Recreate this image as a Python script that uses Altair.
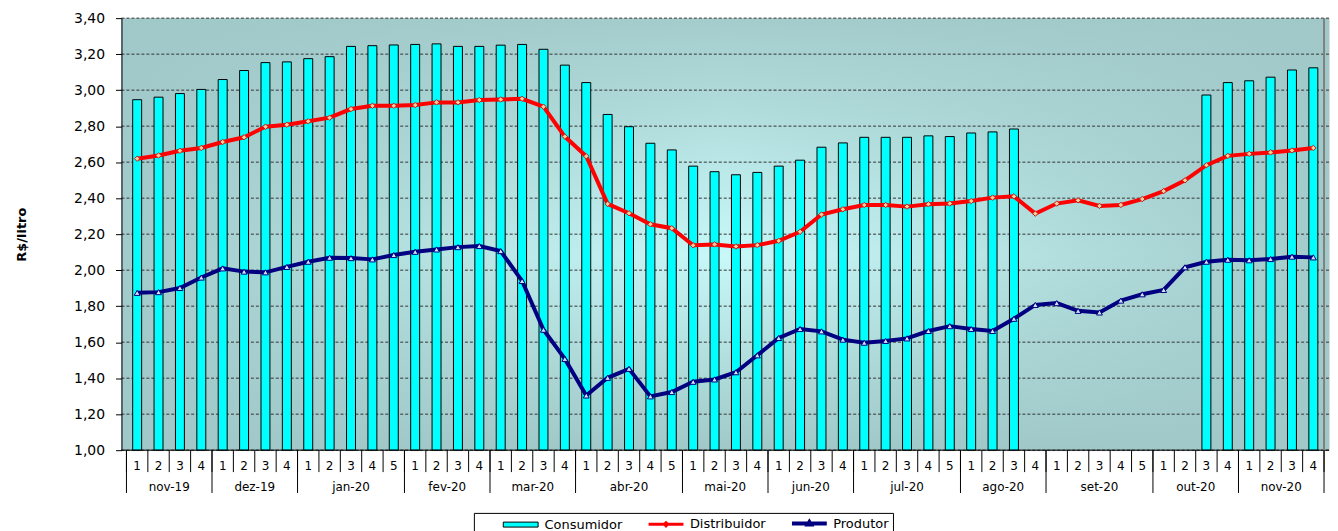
import altair as alt
import pandas as pd

# ---------------- data ----------------
months = ['nov-19', 'dez-19', 'jan-20', 'fev-20', 'mar-20', 'abr-20', 'mai-20',
          'jun-20', 'jul-20', 'ago-20', 'set-20', 'out-20', 'nov-20']
weeks_per_month = [4, 4, 5, 4, 4, 5, 4, 4, 5, 4, 5, 4, 4]

consumidor = [2.947, 2.961, 2.981, 3.004, 3.059, 3.109, 3.153, 3.157, 3.175, 3.186,
              3.243, 3.247, 3.251, 3.254, 3.257, 3.243, 3.243, 3.250, 3.254, 3.227,
              3.139, 3.042, 2.865, 2.797, 2.705, 2.668, 2.578, 2.547, 2.530, 2.543,
              2.578, 2.611, 2.683, 2.707, 2.738, 2.738, 2.738, 2.746, 2.742, 2.762,
              2.768, 2.784, None, None, None, None, None, None, None, None,
              2.973, 3.042, 3.052, 3.072, 3.112, 3.124]

distribuidor = [2.619, 2.637, 2.663, 2.679, 2.712, 2.738, 2.797, 2.808, 2.827, 2.847,
                2.895, 2.913, 2.913, 2.917, 2.932, 2.932, 2.945, 2.948, 2.952, 2.908,
                2.742, 2.633, 2.368, 2.316, 2.255, 2.233, 2.138, 2.143, 2.132, 2.139,
                2.163, 2.213, 2.309, 2.338, 2.362, 2.362, 2.353, 2.366, 2.370, 2.384,
                2.403, 2.410, 2.314, 2.370, 2.388, 2.357, 2.362, 2.395, 2.439, 2.499,
                2.583, 2.635, 2.646, 2.654, 2.665, 2.679]

produtor = [1.874, 1.878, 1.901, 1.959, 2.010, 1.992, 1.988, 2.018, 2.047, 2.069,
            2.067, 2.060, 2.084, 2.102, 2.115, 2.128, 2.134, 2.106, 1.940, 1.669,
            1.507, 1.304, 1.402, 1.452, 1.299, 1.323, 1.380, 1.393, 1.433, 1.527,
            1.623, 1.673, 1.660, 1.614, 1.597, 1.607, 1.621, 1.662, 1.689, 1.673,
            1.662, 1.730, 1.807, 1.817, 1.774, 1.765, 1.831, 1.866, 1.890, 2.016,
            2.047, 2.058, 2.055, 2.062, 2.075, 2.071]

y_ticks = [1.00, 1.20, 1.40, 1.60, 1.80, 2.00, 2.20, 2.40, 2.60, 2.80, 3.00, 3.20, 3.40]
series_names = ['Consumidor', 'Distribuidor', 'Produtor']
series_colors = ['#00FFFF', '#FF0000', '#000080']

# ---------------- derived tables ----------------
week_labels, month_start = [], []
s = 0
for n in weeks_per_month:
    month_start.append(s)
    week_labels += [str(k) for k in range(1, n + 1)]
    s += n
N = s
month_bounds = month_start + [N]
month_center = [st + n / 2 for st, n in zip(month_start, weeks_per_month)]

df = pd.DataFrame({
    'slot': [i + 0.5 for i in range(N)],
    'semana': week_labels,
    'Consumidor': consumidor,
    'Distribuidor': distribuidor,
    'Produtor': produtor,
    'serie': 'Consumidor',
    'base': 1.0,
})
df_edges = pd.DataFrame({'e': list(range(N + 1))})
df_months = pd.DataFrame({'mes': months, 'centro': month_center})
df_bounds = pd.DataFrame({'b': month_bounds})
df_grid = pd.DataFrame({'v': y_ticks})
one = pd.DataFrame({'k': [0]})

W, H = 1213, 434
FONT = 'DejaVu Sans'
xscale = alt.Scale(domain=[0, N], nice=False, zero=False)
yscale = alt.Scale(domain=[1.0, 3.4], nice=False, zero=False)

y_axis = alt.Axis(
    values=y_ticks,
    labelExpr="replace(format(datum.value, '.2f'), '.', ',')",
    grid=False, domainColor='black', tickColor='black', tickSize=6,
    labelFont=FONT, labelFontSize=14, labelColor='black', labelPadding=11,
    title='R$/litro', titleFont=FONT, titleFontWeight='bold', titleFontSize=13,
    titleColor='black', titleX=-100, titleY=H / 2, titleBaseline='middle',
    titleAlign='center', zindex=1)


def X(field):
    return alt.X(field, scale=xscale, axis=None)


def Y(field):
    return alt.Y(field, scale=yscale, axis=y_axis, title='R$/litro')


# ---------------- background ----------------
bg_v = alt.Chart(one).mark_rect(
    color=alt.LinearGradient(
        gradient='linear', x1=0, x2=0, y1=0, y2=1,
        stops=[alt.GradientStop(offset=0, color='#A4CCCC'),
               alt.GradientStop(offset=0.55, color='#C8F8F8'),
               alt.GradientStop(offset=1, color='#A0C8C8')])
).encode(x=alt.value(0), x2=alt.value(W), y=alt.value(0), y2=alt.value(H))

bg_h = alt.Chart(one).mark_rect(
    color=alt.LinearGradient(
        gradient='linear', x1=0, x2=1, y1=0, y2=0,
        stops=[alt.GradientStop(offset=0, color='rgba(160,200,200,0.95)'),
               alt.GradientStop(offset=0.5, color='rgba(160,200,200,0)'),
               alt.GradientStop(offset=1, color='rgba(160,200,200,0.95)')])
).encode(x=alt.value(0), x2=alt.value(W), y=alt.value(0), y2=alt.value(H))

# ---------------- grid ----------------
grid = alt.Chart(df_grid).mark_rule(color='#333333', strokeDash=[3, 2], strokeWidth=1).encode(
    y=Y('v:Q')
)

# ---------------- bars ----------------
shape_expr = ("datum.value == 'Consumidor' ? 'M-1,-0.5H6V0.5H-1Z' : "
              "datum.value == 'Distribuidor' ? 'M-1,0H6M2.5,-0.3L2.8,0L2.5,0.3L2.2,0Z' : "
              "'M-1,0H6M2.5,-0.3L2.8,0.2H2.2Z'")
stroke_expr = ("datum.value == 'Consumidor' ? '#000000' : "
               "datum.value == 'Distribuidor' ? '#FF0000' : '#000080'")
sw_expr = "datum.value == 'Consumidor' ? 1 : datum.value == 'Distribuidor' ? 3 : 4"

bars = alt.Chart(df).mark_bar(size=9).encode(
    x=X('slot:Q'),
    y=Y('Consumidor:Q'),
    y2='base:Q',
    color=alt.Color('serie:N', scale=alt.Scale(domain=series_names, range=series_colors),
                    legend=alt.Legend(
                        title=None, orient='none', legendX=354, legendY=497,
                        direction='horizontal', strokeColor='black', fillColor='white',
                        padding=4, cornerRadius=0,
                        symbolType={'expr': shape_expr}, symbolSize=100,
                        symbolStrokeColor={'expr': stroke_expr},
                        symbolStrokeWidth={'expr': sw_expr},
                        symbolOffset=24, labelOffset=30, columnPadding=0,
                        labelFont=FONT, labelFontSize=13, labelColor='black')),
)

bars_outline = alt.Chart(df).mark_bar(size=9, fill='transparent', stroke='black', strokeWidth=1).encode(
    x=X('slot:Q'),
    y=Y('Consumidor:Q'),
    y2='base:Q',
)

# ---------------- two-level category axis ----------------
baseline = alt.Chart(one).mark_rule(color='black', strokeWidth=1).encode(
    y=alt.Y(datum=1.0, scale=yscale, axis=y_axis, title='R$/litro'),
)
week_sep = alt.Chart(df_edges).mark_rule(color='black', strokeWidth=1).encode(
    x=X('e:Q'),
    y=alt.value(H), y2=alt.value(H + 22),
)
week_txt = alt.Chart(df).mark_text(font=FONT, fontSize=12, color='black', baseline='middle').encode(
    x=X('slot:Q'),
    y=alt.value(H + 16),
    text='semana:N',
)
month_sep = alt.Chart(df_bounds).mark_rule(color='black', strokeWidth=1).encode(
    x=X('b:Q'),
    y=alt.value(H), y2=alt.value(H + 43),
)
month_txt = alt.Chart(df_months).mark_text(font=FONT, fontSize=12, color='black', baseline='middle').encode(
    x=X('centro:Q'),
    y=alt.value(H + 37),
    text='mes:N',
)
right_border = alt.Chart(one).mark_rule(color='#808080', strokeWidth=2).encode(
    x=alt.X(datum=N, scale=xscale, axis=None), y=alt.value(0), y2=alt.value(H),
)

# ---------------- lines ----------------
dist_line = alt.Chart(df).mark_line(color='#FF0000', strokeWidth=4).encode(
    x=X('slot:Q'), y=Y('Distribuidor:Q'),
)
dist_pts = alt.Chart(df).mark_point(shape='diamond', filled=True, fill='#FFCC99', stroke='#B22222',
                                    strokeWidth=1, size=30, opacity=1).encode(
    x=X('slot:Q'), y=Y('Distribuidor:Q'),
)
prod_line = alt.Chart(df).mark_line(color='#000080', strokeWidth=4).encode(
    x=X('slot:Q'), y=Y('Produtor:Q'),
)
prod_pts = alt.Chart(df).mark_point(shape='triangle-up', filled=True, fill='#D0E4FF', stroke='#000080',
                                    strokeWidth=1, size=35, opacity=1).encode(
    x=X('slot:Q'), y=Y('Produtor:Q'),
)

chart = alt.layer(
    bg_v, bg_h, grid, bars, bars_outline, baseline, week_sep, week_txt, month_sep, month_txt,
    right_border, dist_line, dist_pts, prod_line, prod_pts
).properties(
    width=W, height=H,
    padding={'left': 114, 'top': 9, 'right': 1, 'bottom': 80},
    autosize=alt.AutoSizeParams(type='none'),
).configure_view(strokeWidth=0).configure(background='white')

chart.save('out.html', embed_options={'renderer': 'svg', 'actions': False})
